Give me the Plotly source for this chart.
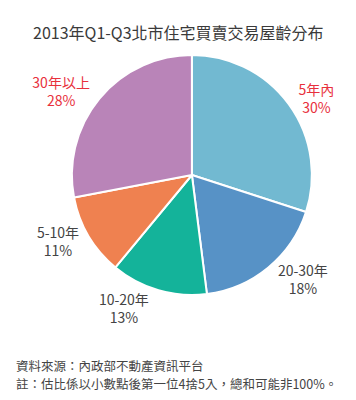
import plotly.graph_objects as go

categories = ["5年內", "20-30年", "10-20年", "5-10年", "30年以上"]
shares = [30, 18, 13, 11, 28]
slice_colors = ["#72b9d1", "#5792c6", "#14b39a", "#ef8150", "#b984b8"]
label_colors = ["#e8303c", "#444444", "#444444", "#444444", "#e8303c"]

title_text = "2013年Q1-Q3北市住宅買賣交易屋齡分布"
source_lines = [
    "資料來源：內政部不動產資訊平台",
    "註：估比係以小數點後第一位4捨5入，總和可能非100%。",
]

FONT = "Noto Sans CJK TC, Noto Sans, sans-serif"

fig = go.Figure(
    go.Pie(
        labels=categories,
        values=shares,
        sort=False,
        direction="clockwise",
        rotation=0,
        marker=dict(colors=slice_colors, line=dict(color="white", width=2)),
        textposition="outside",
        texttemplate="%{label}<br>%{percent:.0%}",
        outsidetextfont=dict(color=label_colors, size=14, family=FONT),
        showlegend=False,
        hoverinfo="label+percent",
        domain=dict(x=[0.202, 0.876], y=[0.2625, 0.8625]),
    )
)

annotations = [
    dict(
        text=title_text,
        x=0.5, y=1 - 32 / 400, xref="paper", yref="paper",
        xanchor="center", yanchor="middle", showarrow=False,
        font=dict(size=16, color="#3a3a3a", family=FONT),
    )
]
for i, line in enumerate(source_lines):
    annotations.append(
        dict(
            text=line,
            x=14 / 356, y=1 - (365 + 18 * i) / 400, xref="paper", yref="paper",
            xanchor="left", yanchor="middle", align="left", showarrow=False,
            font=dict(size=12.5, color="#444444", family=FONT),
        )
    )

fig.update_layout(
    width=356,
    height=400,
    margin=dict(l=0, r=0, t=0, b=0),
    paper_bgcolor="white",
    plot_bgcolor="white",
    font=dict(family=FONT, color="#444444"),
    annotations=annotations,
)

fig.write_html(
    "out.html",
    config={"displayModeBar": False},
    post_script="document.body.style.margin='0';",
)
